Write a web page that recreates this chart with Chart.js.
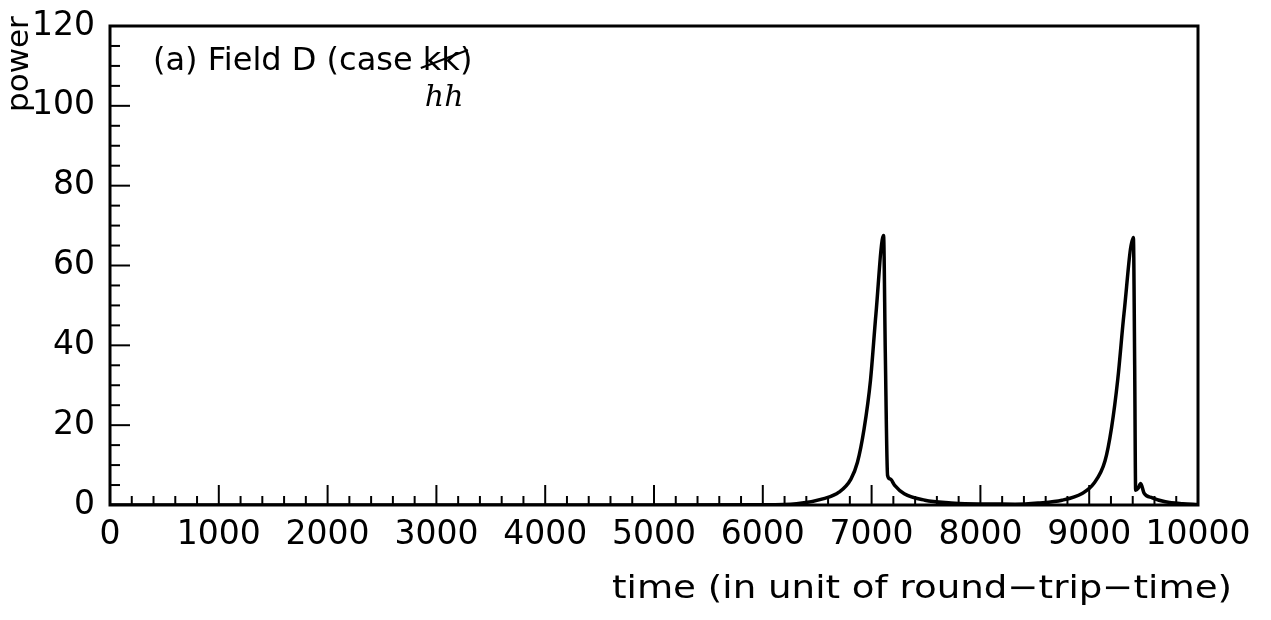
<!DOCTYPE html>
<html>
<head>
<meta charset="utf-8">
<script src="https://cdn.jsdelivr.net/npm/chart.js@4/dist/chart.umd.min.js"></script>
<style>
  html, body { margin: 0; padding: 0; background: #fff; }
  #wrap { width: 1271px; height: 620px; }
</style>
</head>
<body>
<div id="wrap"><canvas id="power-chart"></canvas></div>
<script>
// time in round-trip units, power of field D
const times = [0, 1000, 2000, 3000, 4000, 5000, 6000, 6310, 6560, 6700, 6810, 6870, 6930, 6990,
  7040, 7110, 7126, 7147, 7172, 7210, 7300, 7490, 7730, 7860, 8100, 8320,
  8530, 8750, 8935, 9040, 9145, 9205, 9263, 9320, 9406, 9418, 9427, 9450, 9473,
  9504, 9580, 9700, 9860, 10000];
const power = [0, 0, 0, 0, 0, 0, 0.05, 0.3, 1.6, 3.2, 6.5, 10.7, 18.9, 31.3,
  47.9, 67.5, 38, 7.4, 6.5, 5, 2.8, 1.2, 0.5, 0.3, 0.25, 0.2,
  0.5, 1.2, 2.9, 5.3, 11, 19.3, 31.6, 48, 67, 35, 3.7, 4.2, 5.4,
  3, 1.8, 0.8, 0.3, 0.1];

const yTicks = [0, 20, 40, 60, 80, 100, 120];
const xTicks = [0, 1000, 2000, 3000, 4000, 5000, 6000, 7000, 8000, 9000, 10000];

const titleText = "(a) Field D (case ";
const struckText = "kk";
const handText = "hh";
const yTitle = "power";
const xTitle = "time (in unit of round\u2212trip\u2212time)";

const FONT = "'DejaVu Sans', sans-serif";

// box frame, inward ticks and the text annotations
const framePlugin = {
  id: "frame",
  afterDraw(chart) {
    const { ctx, chartArea: a, scales } = chart;
    const x = scales.x, y = scales.y;
    ctx.save();
    ctx.strokeStyle = "#000";
    ctx.lineWidth = 3;
    ctx.strokeRect(a.left, a.top, a.right - a.left, a.bottom - a.top);

    ctx.lineWidth = 2;
    for (let v = 5; v < 120; v += 5) {
      const py = y.getPixelForValue(v);
      const len = v % 20 === 0 ? 20 : 10;
      ctx.beginPath();
      ctx.moveTo(a.left, py);
      ctx.lineTo(a.left + len, py);
      ctx.stroke();
    }
    for (let v = 200; v < 10000; v += 200) {
      const px = x.getPixelForValue(v);
      const len = v % 1000 === 0 ? 20 : 9;
      ctx.beginPath();
      ctx.moveTo(px, a.bottom);
      ctx.lineTo(px, a.bottom - len);
      ctx.stroke();
    }

    ctx.fillStyle = "#000";
    ctx.textBaseline = "alphabetic";
    ctx.textAlign = "left";
    ctx.font = "32px " + FONT;
    const tx = 153, ty = 70;
    ctx.fillText(titleText, tx, ty);
    const w1 = ctx.measureText(titleText).width;
    ctx.fillText(struckText, tx + w1, ty);
    const w2 = ctx.measureText(struckText).width;
    ctx.fillText(")", tx + w1 + w2, ty);
    ctx.lineWidth = 2;
    ctx.beginPath();
    ctx.moveTo(tx + w1 - 2, ty - 2);
    ctx.lineTo(tx + w1 + w2 + 8, ty - 20);
    ctx.stroke();
    ctx.font = "italic 30px 'DejaVu Serif', serif";
    ctx.fillText(handText, tx + w1 + 2, ty + 36);

    // axis title, stretched a little to the wide lettering
    ctx.save();
    ctx.font = "32px " + FONT;
    const wx = ctx.measureText(xTitle).width;
    const sx = 620 / wx;
    ctx.translate(1232, 598);
    ctx.scale(sx, 1);
    ctx.textAlign = "right";
    ctx.fillText(xTitle, 0, 0);
    ctx.restore();

    ctx.font = "31px " + FONT;
    ctx.textAlign = "left";
    ctx.translate(28, 112);
    ctx.rotate(-Math.PI / 2);
    ctx.fillText(yTitle, 0, 0);
    ctx.restore();
  }
};

new Chart(document.querySelector("#power-chart").getContext("2d"), {
  type: "line",
  data: {
    datasets: [{
      label: "Field D",
      data: times.map((t, i) => ({ x: t, y: power[i] })),
      borderColor: "#000",
      borderWidth: 3.5,
      pointRadius: 0,
      cubicInterpolationMode: "monotone",
      fill: false
    }]
  },
  options: {
    responsive: true,
    maintainAspectRatio: false,
    animation: false,
    layout: { padding: { top: 26, right: 73, left: 0, bottom: 0 } },
    plugins: { legend: { display: false }, tooltip: { enabled: false } },
    scales: {
      x: {
        type: "linear",
        min: 0,
        max: 10000,
        afterFit(scale) {
          scale.height = 115;
          scale.paddingLeft = 0;
          scale.paddingRight = 0;
        },
        afterBuildTicks(scale) { scale.ticks = xTicks.map(v => ({ value: v })); },
        grid: { display: false, drawTicks: false },
        border: { display: false },
        ticks: {
          color: "#000",
          padding: 11,
          maxRotation: 0,
          autoSkip: false,
          font: { family: FONT, size: 33 },
          callback: v => String(v)
        }
      },
      y: {
        min: 0,
        max: 120,
        afterFit(scale) {
          scale.width = 110;
          scale.paddingTop = 0;
          scale.paddingBottom = 0;
        },
        afterBuildTicks(scale) { scale.ticks = yTicks.map(v => ({ value: v })); },
        grid: { display: false, drawTicks: false },
        border: { display: false },
        ticks: {
          color: "#000",
          padding: 15,
          font: { family: FONT, size: 33 },
          callback: v => String(v)
        }
      }
    }
  },
  plugins: [framePlugin]
});
</script>
</body>
</html>
